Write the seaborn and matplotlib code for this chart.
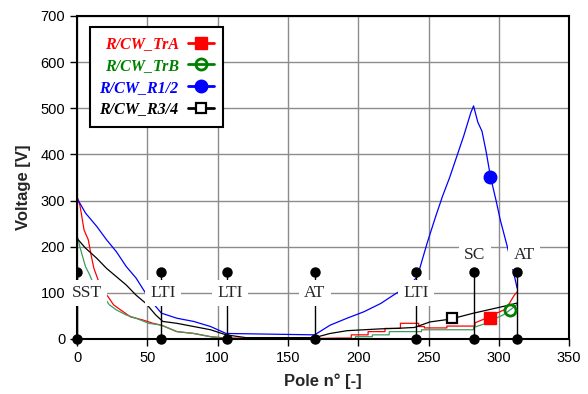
import matplotlib
matplotlib.use("Agg")
import matplotlib.pyplot as plt
from matplotlib.lines import Line2D
from matplotlib.font_manager import FontProperties
import seaborn as sns
import pandas as pd

# series (pole number vs voltage); repeated x = a step
tra_x = [0, 2, 3, 5, 8, 10, 12, 15, 17, 19, 22, 26, 31, 38, 47, 54, 60, 71, 83, 95, 106, 120, 140, 169,
         185, 195, 195, 207, 207, 219, 219, 230, 230, 243, 243, 247, 247, 263, 263, 283, 283,
         287, 291, 297, 300, 305, 309, 311, 313]
tra_y = [309, 290, 273, 236, 215, 182, 153, 128, 113, 103, 92, 74, 63, 48, 41, 34, 30, 16, 12, 5, 2, 2, 1, 1,
         2, 2, 9, 9, 16, 16, 23, 23, 34, 34, 27, 27, 24, 24, 28, 28, 35,
         40, 45, 55, 58, 65, 85, 95, 102]

trb_x = [0, 2, 4, 6, 9, 11, 14, 19, 23, 28, 35, 42, 51, 60, 71, 83, 95, 106, 130, 169, 190,
         198, 198, 210, 210, 222, 222, 245, 245, 282, 282, 287, 292, 298, 303, 308, 311, 313]
trb_y = [225, 200, 178, 157, 139, 124, 117, 92, 74, 63, 52, 45, 34, 30, 16, 12, 5, 1, 0, 0, 1,
         1, 5, 5, 9, 9, 16, 16, 20, 20, 25, 30, 35, 45, 52, 63, 70, 75]

r12_x = [0, 6, 14, 21, 28, 35, 42, 48, 55, 60, 71, 83, 95, 106, 169, 180, 192, 204, 216, 227, 236, 242,
         249, 255, 260, 265, 270, 275, 280, 282, 285, 288, 291, 294, 298, 301, 306, 310, 313]
r12_y = [305, 273, 244, 215, 189, 157, 132, 103, 74, 56, 45, 38, 27, 12, 9, 30, 45, 59, 77, 99, 115, 135,
         208, 265, 310, 350, 395, 440, 490, 505, 470, 450, 405, 352, 300, 258, 200, 150, 110]

r34_x = [0, 6, 14, 21, 28, 35, 42, 49, 56, 61, 71, 83, 95, 106, 120, 150, 169, 180, 192, 204, 216, 227,
         240, 251, 263, 268, 282, 298, 308, 313]
r34_y = [218, 197, 175, 153, 135, 117, 95, 77, 52, 38, 34, 27, 20, 9, 3, 3, 3, 12, 18, 20, 22, 23,
         25, 37, 42, 45, 56, 67, 74, 78]

# single marker shown on each curve
mark_x = [294, 308, 294, 267]
mark_y = [45, 63, 352, 45]

series_names = ["R/CW_TrA", "R/CW_TrB", "R/CW_R1/2", "R/CW_R3/4"]

# events along the pole axis
event_pole = [0, 60, 107, 169, 241, 282, 313]
event_name = ["SST", "LTI", "LTI", "AT", "LTI", "SC", "AT"]
event_text_x = [7, 61, 109, 169, 241, 283, 318]
event_text_y = [100, 100, 100, 100, 100, 181, 181]
event_top = 145

sns.set_style("white")
plt.rcParams["font.family"] = ["Liberation Sans", "DejaVu Sans"]

fig = plt.figure(figsize=(5.88, 3.94), dpi=100)
ax = fig.add_axes([0.131, 0.1396, 0.837, 0.82])

line_cols = ["#ff0000", "#3c9c62", "#0000ff", "#000000"]
mark_cols = ["#ff0000", "#008000", "#0000ff", "#000000"]
mark_style = [dict(marker="s", ms=8, mfc="#ff0000", mec="#ff0000"),
              dict(marker="o", ms=8, mfc="none", mec="#008000", mew=2),
              dict(marker="o", ms=9, mfc="#0000ff", mec="#0000ff"),
              dict(marker="s", ms=7, mfc="white", mec="#000000", mew=1.6)]

data = [(tra_x, tra_y), (trb_x, trb_y), (r12_x, r12_y), (r34_x, r34_y)]

for (xs, ys), col in zip(data, line_cols):
    df = pd.DataFrame({"pole": xs, "volt": ys})
    sns.lineplot(data=df, x="pole", y="volt", color=col, lw=0.9, sort=False,
                 estimator=None, legend=False, ax=ax, zorder=2)

for mx, my, st in zip(mark_x, mark_y, mark_style):
    ax.plot([mx], [my], ls="none", zorder=6, **st)

# event stems + labels
for p in event_pole:
    ax.plot([p, p], [0, event_top], color="black", lw=1.0, zorder=3)
    ax.plot([p], [event_top], "o", color="black", ms=6.5, zorder=5)
    ax.plot([p], [0], "o", color="black", ms=6.5, zorder=7, clip_on=False)
for tx, ty, name in zip(event_text_x, event_text_y, event_name):
    ax.text(tx, ty, name, ha="center", va="center", fontsize=12.5,
            family="Liberation Serif", zorder=4,
            bbox=dict(boxstyle="square,pad=0.3", fc="white", ec="none"))

ax.set_xlim(0, 350)
ax.set_ylim(0, 700)
ax.set_xticks(range(0, 351, 50))
ax.set_yticks(range(0, 701, 100))
ax.grid(True, color="#8c8c8c", lw=1.0)
ax.set_axisbelow(True)
for s in ax.spines.values():
    s.set_color("black")
    s.set_linewidth(1.5)
ax.tick_params(axis="both", direction="out", length=5, width=1, colors="black",
               labelsize=10.5, left=True, bottom=True)

ax.set_xlabel("Pole n° [-]", fontsize=12, fontweight="bold", labelpad=6)
ax.set_ylabel("Voltage [V]", fontsize=12, fontweight="bold")
ax.yaxis.set_label_coords(-0.093, 0.47)

handles = [Line2D([0], [0], color=mc, lw=2, **st) for mc, st in zip(mark_cols, mark_style)]
leg = ax.legend(handles, series_names, loc="upper left", bbox_to_anchor=(0.026, 0.966),
                borderaxespad=0, markerfirst=False, labelcolor=mark_cols,
                prop=FontProperties(family="Liberation Serif", weight="bold", style="italic", size=11.5),
                frameon=True, fancybox=False, edgecolor="black", framealpha=1,
                handlelength=1.6, handletextpad=0.6, labelspacing=0.35, borderpad=0.6)
leg.get_frame().set_linewidth(1.5)
leg.set_zorder(10)

fig.savefig("out.png", dpi=100)
